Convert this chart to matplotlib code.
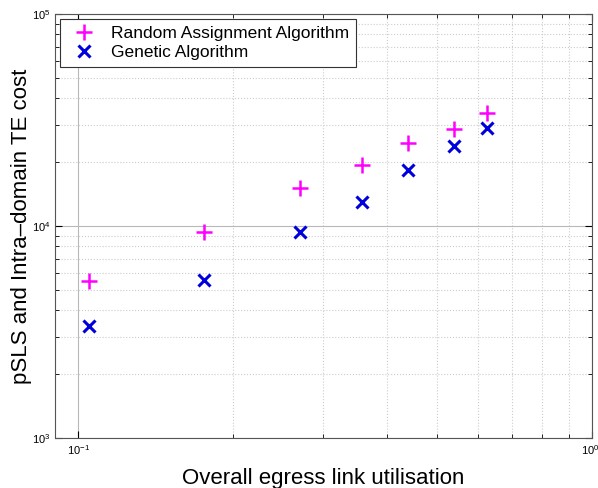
import matplotlib
matplotlib.use('Agg')
import matplotlib.pyplot as plt
import matplotlib.transforms as mtransforms

plt.rcParams['font.family'] = ['Liberation Sans', 'DejaVu Sans']
plt.rcParams['mathtext.fontset'] = 'custom'
plt.rcParams['mathtext.rm'] = 'Liberation Sans'

# utilisation values (x) and costs
util = [0.105, 0.176, 0.27, 0.357, 0.438, 0.539, 0.626]
random_cost = [5500, 9350, 15170, 19400, 24550, 28700, 34200]
genetic_cost = [3390, 5560, 9400, 13030, 18370, 23840, 28900]

fig = plt.figure(figsize=(5.98, 4.88), dpi=100)
ax = fig.add_axes([0.092, 0.1025, 0.898, 0.869])

ax.plot(util, random_cost, linestyle='none', marker='+', color='#ff00ff',
        markersize=11, markeredgewidth=1.8, label='Random Assignment Algorithm')
ax.plot(util, genetic_cost, linestyle='none', marker='x', color='#0000dd',
        markersize=8, markeredgewidth=2.2, label='Genetic Algorithm')

ax.set_xscale('log')
ax.set_yscale('log')
ax.set_xlim(0.0902, 1)
ax.set_ylim(1e3, 1e5)

ax.grid(True, which='major', color='#b8b8b8', linestyle='-', linewidth=0.8)
ax.grid(True, which='minor', color='#cccccc', linestyle=':', linewidth=0.8)
ax.set_axisbelow(True)

ax.tick_params(which='both', direction='in', top=True, right=True, labelsize=8)
ax.tick_params(which='major', length=5)
ax.tick_params(which='minor', length=3, labelbottom=False, labelleft=False)
for s in ax.spines.values():
    s.set_color('#555555')

ax.set_xlabel('Overall egress link utilisation', fontsize=16, labelpad=8)
ax.set_ylabel('pSLS and Intra\u2013domain TE cost', fontsize=16)
ax.yaxis.set_label_coords(-0.043, 0.5)

# keep the 10^0 label inside the figure
fig.canvas.draw()
last = [t for t in ax.get_xticklabels() if t.get_position()[0] >= 0.99]
for t in last:
    t.set_horizontalalignment('right')
    t.set_transform(t.get_transform() + mtransforms.ScaledTranslation(5 / 72, 0, fig.dpi_scale_trans))

leg = ax.legend(loc='upper left', fontsize=12.5, fancybox=False, framealpha=1,
                edgecolor='#333333', borderaxespad=0.3, handletextpad=0.6,
                labelspacing=0.2, borderpad=0.4, handlelength=1.9)
leg.get_frame().set_linewidth(0.8)

fig.savefig('out.png', dpi=100)
